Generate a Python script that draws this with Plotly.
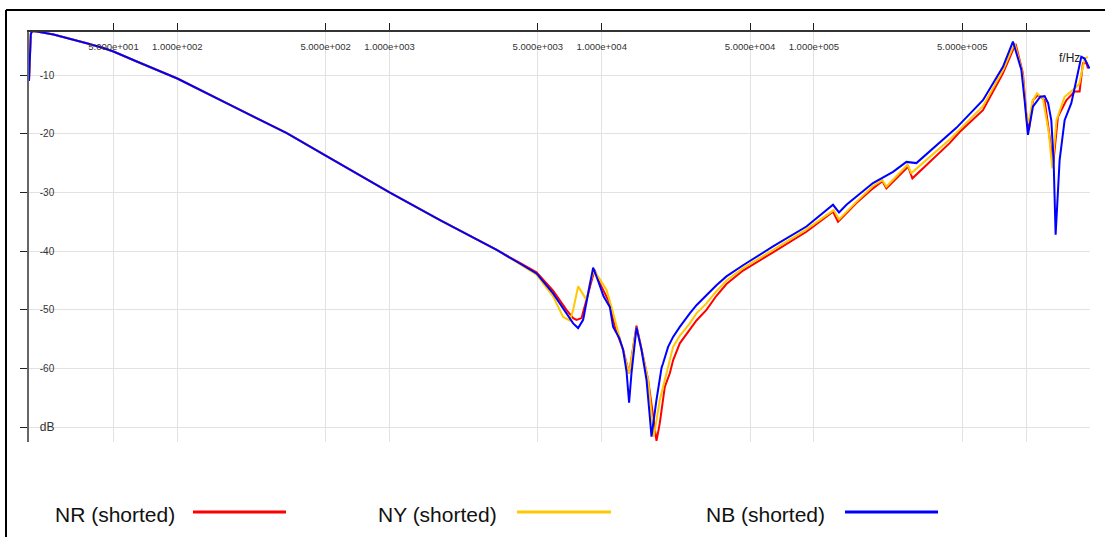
import math
import plotly.graph_objects as go

# ---------------- data ----------------
series_names = ["NR (shorted)", "NY (shorted)", "NB (shorted)"]
series_colors = ["#ff0000", "#ffc800", "#0000ff"]

# common low-frequency part (the three curves overlap there)
freq_low = [20.0, 20.15, 20.4, 20.7, 21.8, 26.1, 31.2, 37.4, 44.8, 50, 64.4, 77.1, 100, 184, 328,
            505, 583, 725, 1000, 1730, 2400, 3200]
db_low = [-11.0, -6.5, -3.0, -2.5, -2.6, -3.1, -3.8, -4.6, -5.4, -6.0, -7.7, -8.9, -10.6, -15.4, -19.9,
          -23.8, -25.1, -27.0, -30.0, -34.7, -37.4, -39.8]

freq_nr = [4114, 4930, 5900, 6820, 7334, 7606, 8033, 8480, 8953, 9250, 9800, 10917, 11530, 12613,
           13460, 14584, 16540, 17460, 18120, 18780, 19830, 20940, 21693, 23330, 26003, 27960, 31160,
           34730, 38703, 46345, 64180, 92193, 123027, 129900, 158500, 189800, 210200, 219600, 278200,
           291100, 436200, 486000, 626000, 777600, 892400, 965900, 1.0086e6, 1.0306e6, 1.0765e6,
           1.1366e6, 1.2226e6, 1.2907e6, 1.3376e6, 1.4124e6, 1.5468e6, 1.6924e6, 1.7865e6, 1.8518e6,
           1.9275e6, 1.9545e6]
db_nr = [-42.0, -43.6, -46.7, -50.0, -51.4, -51.7, -51.4, -48.3, -44.9, -43.2, -45.5, -48.9, -52.9, -56.8,
         -60.8, -52.7, -61.9, -68.2, -72.3, -69.3, -63.1, -60.8, -58.6, -55.7, -53.4, -51.8, -50.0,
         -47.6, -45.6, -43.3, -40.2, -36.7, -33.3, -35.0, -31.8, -29.3, -28.1, -29.3, -25.6,
         -27.6, -21.6, -19.7, -16.0, -9.7, -4.7, -9.7, -17.7, -19.4, -14.3,
         -13.4, -14.3, -20.5, -25.6, -17.1, -14.3, -12.8, -12.8, -8.0,
         -8.0, -8.9]

freq_ny = [4114, 4930, 5900, 6580, 7073, 7334, 7741, 8120, 8480, 8790, 9178, 9800, 10535, 11120,
           12613, 13460, 14584, 16540, 17598, 18780, 20200, 21693, 23330, 26003, 27960, 31160, 34730,
           38703, 46345, 64180, 92193, 124000, 131300, 158500, 189800, 210200, 219600, 276000, 288000,
           436200, 486000, 626000, 777600, 882500, 960000, 1.0e6, 1.0276e6, 1.07e6, 1.1245e6, 1.2e6,
           1.28e6, 1.3284e6, 1.39e6, 1.5185e6, 1.6924e6, 1.78e6, 1.886e6, 1.9545e6]
db_ny = [-42.2, -44.0, -47.7, -51.2, -51.8, -50.0, -46.0, -47.2, -48.3, -45.5, -43.2, -44.8, -46.6, -49.5,
         -56.8, -60.8, -53.0, -61.9, -71.6, -65.3, -60.8, -56.3, -54.4, -52.3, -50.6, -48.9, -46.8,
         -45.0, -42.9, -39.8, -36.3, -33.0, -34.6, -31.6, -28.9, -27.9, -29.0, -25.3, -26.7,
         -21.0, -19.3, -15.3, -9.2, -4.6, -9.5, -16.5, -18.2, -14.5, -13.1, -14.0,
         -19.9, -25.9, -17.7, -13.7, -12.3, -11.5, -7.2, -6.9]

freq_nb = [4114, 4930, 5900, 6820, 7334, 7741, 8173, 8629, 9111, 9600, 10200, 10917, 11317, 12100,
           12613, 13090, 13460, 13812, 14584, 15397, 16255, 16850, 17165, 18120, 19130, 19465, 20550,
           21693, 23330, 26003, 27960, 31160, 34730, 38703, 46345, 64180, 92193, 123027, 131300,
           142300, 189800, 235900, 272800, 304000, 436200, 469100, 626000, 777600, 866700, 949300,
           983800, 1.0198e6, 1.0765e6, 1.166e6, 1.2226e6, 1.2695e6, 1.314e6, 1.3475e6, 1.3773e6,
           1.4384e6, 1.5185e6, 1.6329e6, 1.7237e6, 1.8197e6, 1.886e6, 1.99e6]
db_nb = [-42.1, -43.8, -47.2, -50.6, -52.3, -53.1, -51.7, -47.2, -42.8, -45.0, -47.7, -49.5, -52.9, -54.8,
         -56.8, -60.5, -65.8, -60.8, -53.0, -56.8, -61.9, -68.2, -71.6, -65.3, -59.9, -59.1, -56.3,
         -54.6, -52.9, -50.6, -49.2, -47.5, -45.8, -44.3, -42.4, -39.2, -35.8, -32.1, -33.4,
         -32.1, -28.4, -26.5, -24.8, -25.0, -19.9, -19.0, -14.3, -8.6, -4.3, -9.1,
         -14.3, -20.2, -15.4, -13.7, -13.6, -14.8, -17.7, -24.5, -37.2,
         -24.5, -17.7, -14.8, -10.9, -6.9, -7.2, -8.9]

x_tick_vals = [50, 100, 500, 1e3, 5e3, 1e4, 5e4, 1e5, 5e5, 1e6]
x_tick_text = ["5.000e+001", "1.000e+002", "5.000e+002", "1.000e+003", "5.000e+003",
               "1.000e+004", "5.000e+004", "1.000e+005", "5.000e+005", ""]
y_tick_vals = [-10, -20, -30, -40, -50, -60, -70]
y_tick_text = ["-10", "-20", "-30", "-40", "-50", "-60",
               "<span style='font-size:12px'>dB</span>"]

# ---------------- figure ----------------
W, H = 1105, 537
FONT = "Liberation Sans, Arial, sans-serif"
X_RANGE = [math.log10(20), math.log10(2e6)]
Y_RANGE = [-72.45, -2.59]


def px(x):
    return x / W


def py(y):
    return 1 - y / H


X_DOMAIN = [px(29), px(1090)]
Y_DOMAIN = [py(441.7), py(31.5)]

fig = go.Figure()
for name, color, fx, dy in zip(series_names, series_colors,
                               [freq_nr, freq_ny, freq_nb], [db_nr, db_ny, db_nb]):
    fig.add_trace(go.Scatter(x=freq_low + fx, y=db_low + dy, mode="lines", name=name,
                             line=dict(color=color, width=2), showlegend=False))

fig.update_layout(
    width=W, height=H,
    margin=dict(l=0, r=0, t=0, b=0),
    paper_bgcolor="white", plot_bgcolor="white",
    font=dict(family=FONT, color="#222"),
    xaxis=dict(
        type="log", range=X_RANGE, domain=X_DOMAIN,
        side="top", showline=True, linecolor="#333", linewidth=1.5,
        ticks="outside", ticklen=7, tickcolor="#222", tickwidth=1,
        tickvals=x_tick_vals, ticktext=x_tick_text,
        ticklabelposition="inside", ticklabelstandoff=11,
        tickfont=dict(size=9.5, color="#333", family=FONT),
        showgrid=True, gridcolor="#e2e2e2", gridwidth=1, zeroline=False,
    ),
    yaxis=dict(
        range=Y_RANGE, domain=Y_DOMAIN,
        showline=True, linecolor="#666", linewidth=1.5,
        ticks="outside", ticklen=7, tickcolor="#222", tickwidth=1,
        tickvals=y_tick_vals, ticktext=y_tick_text,
        ticklabelposition="inside", ticklabelstandoff=10,
        tickfont=dict(size=10, color="#333", family=FONT),
        showgrid=True, gridcolor="#e2e2e2", gridwidth=1, zeroline=False,
    ),
    # overlay axes that only add the inner half of the crossing tick marks
    xaxis2=dict(
        type="log", range=X_RANGE, domain=X_DOMAIN, overlaying="x", side="top", anchor="y",
        ticks="inside", ticklen=5, tickcolor="#222", tickwidth=1, tickvals=x_tick_vals,
        showticklabels=False, showgrid=False, showline=False, zeroline=False,
    ),
    yaxis2=dict(
        range=Y_RANGE, domain=Y_DOMAIN, overlaying="y", side="left", anchor="x",
        ticks="inside", ticklen=6, tickcolor="#222", tickwidth=1, tickvals=y_tick_vals,
        showticklabels=False, showgrid=False, showline=False, zeroline=False,
    ),
)

shapes = [
    dict(type="line", xref="paper", yref="paper", x0=px(6), x1=px(6), y0=py(10), y1=py(537),
         line=dict(color="black", width=2)),
    dict(type="line", xref="paper", yref="paper", x0=px(6), x1=px(1105), y0=py(10), y1=py(10),
         line=dict(color="black", width=2)),
]
annotations = [
    dict(text="f/Hz", xref="paper", yref="paper", x=px(1057), y=py(58), xanchor="left",
         yanchor="middle", showarrow=False, font=dict(size=12, color="#222", family=FONT)),
]

legend_text_x = [53, 376, 704]
legend_line_x = [(193, 286), (517, 611), (845, 938)]
for name, color, tx, (lx0, lx1) in zip(series_names, series_colors, legend_text_x, legend_line_x):
    annotations.append(dict(text=name, xref="paper", yref="paper", x=px(tx), y=py(514),
                            xanchor="left", yanchor="middle", showarrow=False,
                            font=dict(size=21, color="#111", family=FONT)))
    shapes.append(dict(type="line", xref="paper", yref="paper", x0=px(lx0), x1=px(lx1),
                       y0=py(512), y1=py(512), line=dict(color=color, width=3)))

fig.update_layout(shapes=shapes, annotations=annotations)
fig.write_html("out.html", config={"displayModeBar": False},
               post_script="document.body.style.margin='0';document.body.style.overflow='hidden';")
